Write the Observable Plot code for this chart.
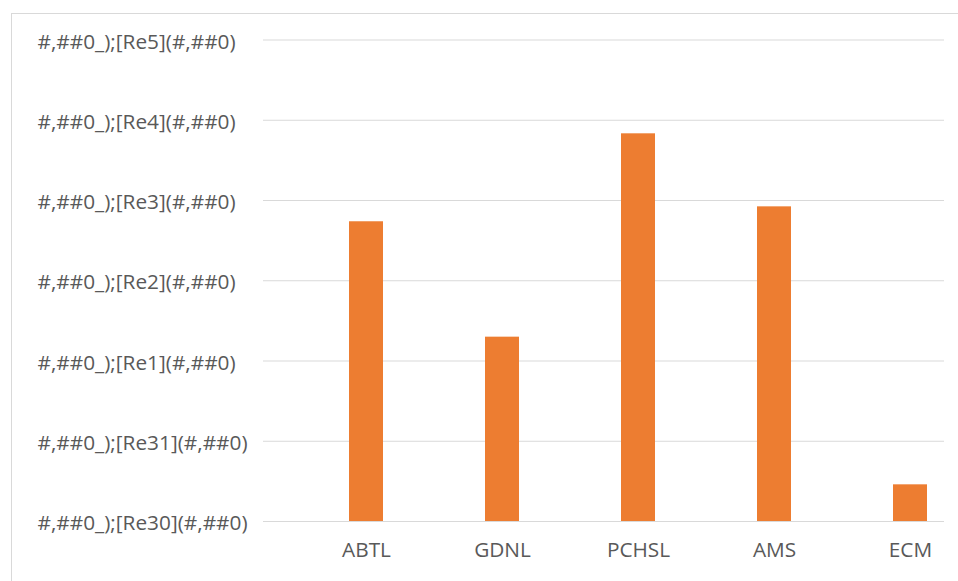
<!DOCTYPE html>
<html>
<head>
<meta charset="utf-8">
<script src="https://cdn.jsdelivr.net/npm/d3@7"></script>
<script src="https://cdn.jsdelivr.net/npm/@observablehq/plot@0.6"></script>
<style>
  html, body { margin: 0; padding: 0; background: #ffffff; }
  #chart { position: relative; width: 958px; height: 581px; overflow: hidden; }
  #chart svg { position: absolute; left: 0; top: 0; }
  /* chart-area outline, open to the right and bottom */
  #outline {
    position: absolute; left: 11px; top: 13px; width: 1000px; height: 700px;
    border-left: 1px solid #d9d9d9; border-top: 1px solid #d9d9d9;
    pointer-events: none;
  }
</style>
</head>
<body>
<div id="chart"><div id="outline"></div></div>
<script>
// Categories and their values
const categories = ["ABTL", "GDNL", "PCHSL", "AMS", "ECM"];
const values = [3.735, 2.297, 4.831, 3.921, 0.457];

// Value-axis ticks and their (unformatted) labels
const yTickValues = [0, 1, 2, 3, 4, 5, 6];
const yTickLabels = [
  "#,##0_);[Re30](#,##0)",
  "#,##0_);[Re31](#,##0)",
  "#,##0_);[Re1](#,##0)",
  "#,##0_);[Re2](#,##0)",
  "#,##0_);[Re3](#,##0)",
  "#,##0_);[Re4](#,##0)",
  "#,##0_);[Re5](#,##0)"
];

const data = categories.map((name, i) => ({name, value: values[i]}));

const chart = Plot.plot({
  width: 958,
  height: 581,
  marginLeft: 263,
  marginRight: 14,
  marginTop: 39.5,
  marginBottom: 60,
  style: {
    fontFamily: "'Open Sans', 'Noto Sans', sans-serif",
    fontSize: "20.8px",
    color: "#595959",
    background: "transparent",
    overflow: "visible"
  },
  x: {domain: categories, range: [297, 978], paddingInner: 0.75, paddingOuter: 0.375, label: null},
  y: {domain: [0, 6], label: null},
  marks: [
    Plot.gridY(yTickValues, {stroke: "#d9d9d9", strokeOpacity: 1, strokeWidth: 1}),
    Plot.barY(data, {x: "name", y: "value", fill: "#ED7D31"}),
    Plot.axisY(yTickValues, {
      tickSize: 0,
      tickPadding: 0,
      textAnchor: "start",
      dx: -226,
      dy: 2,
      label: null,
      tickFormat: (d) => yTickLabels[d]
    }),
    Plot.axisX({tickSize: 0, tickPadding: 21, label: null})
  ]
});

document.getElementById("chart").prepend(chart);
</script>
</body>
</html>
